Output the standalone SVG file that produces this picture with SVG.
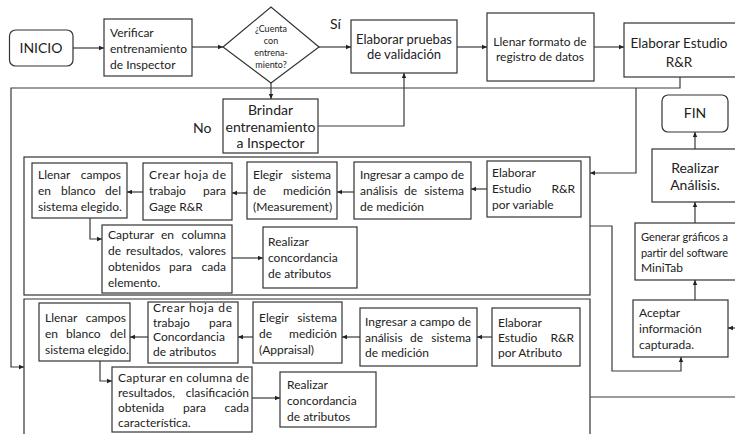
<svg xmlns="http://www.w3.org/2000/svg" width="735" height="434" viewBox="0 0 735 434">
<style>
.b{fill:#fff;stroke:#333;stroke-width:1.2}
.c{fill:none;stroke:#3a3a3a;stroke-width:1.2}
.t{font-family:Lato,"Liberation Sans",sans-serif;font-size:12px;fill:#222}
.m{text-anchor:middle}
.e{text-anchor:end}
.l{font-size:14px}
.s{font-size:9px}
.g{font-size:11px}
</style>
<defs>
<marker id="a" markerWidth="6" markerHeight="6" refX="5" refY="3" orient="auto" markerUnits="userSpaceOnUse">
<path d="M0,0.8 L5,3 L0,5.2 Z" fill="#222"/>
</marker>
</defs>
<rect width="735" height="434" fill="#fff"/>
<g id="containers">
<rect class="b" x="24" y="157" width="566" height="138"/>
<path class="b" d="M24,440 V299 H590 V440"/>
</g>
<g id="connectors">
<line class="c" x1="73" y1="48" x2="104" y2="48" marker-end="url(#a)"/>
<line class="c" x1="192" y1="47" x2="223" y2="47" marker-end="url(#a)"/>
<line class="c" x1="319" y1="47" x2="351" y2="47" marker-end="url(#a)"/>
<line class="c" x1="457" y1="47" x2="487" y2="47" marker-end="url(#a)"/>
<line class="c" x1="594" y1="47" x2="624" y2="47" marker-end="url(#a)"/>
<line class="c" x1="271" y1="83" x2="271" y2="99" marker-end="url(#a)"/>
<polyline class="c" points="318,126 404,126 404,73" marker-end="url(#a)"/>
<polyline class="c" points="680,77 680,88 11,88 11,367 24,367" marker-end="url(#a)"/>
<polyline class="c" points="636,88 636,173 590,173" marker-end="url(#a)"/>
<polyline class="c" points="590,226 612,226 612,371 681,371 681,357" marker-end="url(#a)"/>
<line class="c" x1="590" y1="397" x2="736" y2="397"/>
<line class="c" x1="736" y1="328" x2="728" y2="328" marker-end="url(#a)"/>
<line class="c" x1="695" y1="300" x2="695" y2="280" marker-end="url(#a)"/>
<line class="c" x1="695" y1="223" x2="695" y2="202" marker-end="url(#a)"/>
<line class="c" x1="695" y1="149" x2="695" y2="132" marker-end="url(#a)"/>
<line class="c" x1="487" y1="189" x2="471" y2="189" marker-end="url(#a)"/>
<line class="c" x1="354" y1="192" x2="337" y2="192" marker-end="url(#a)"/>
<line class="c" x1="247" y1="193" x2="232" y2="193" marker-end="url(#a)"/>
<line class="c" x1="143" y1="192" x2="127" y2="192" marker-end="url(#a)"/>
<polyline class="c" points="90,218 90,239 102,239" marker-end="url(#a)"/>
<line class="c" x1="232" y1="258" x2="263" y2="258" marker-end="url(#a)"/>
<line class="c" x1="492" y1="337" x2="477" y2="337" marker-end="url(#a)"/>
<line class="c" x1="360" y1="337" x2="342" y2="337" marker-end="url(#a)"/>
<line class="c" x1="253" y1="337" x2="238" y2="337" marker-end="url(#a)"/>
<line class="c" x1="148" y1="337" x2="130" y2="337" marker-end="url(#a)"/>
<polyline class="c" points="100,361 100,381 112,381" marker-end="url(#a)"/>
<line class="c" x1="252" y1="398" x2="280" y2="398" marker-end="url(#a)"/>
</g>
<g id="labels">
<text class="t l" x="330" y="29">Sí</text>
<text class="t l" x="193" y="133">No</text>
</g>
<g id="inicio">
<rect class="b" x="9.5" y="30" width="63.5" height="36" rx="6"/>
<text class="t l m" x="41" y="53">INICIO</text>
</g>
<g id="verificar">
<rect class="b" x="104" y="19" width="88" height="57"/>
<text class="t" x="110" y="37">Verificar</text>
<text class="t" x="110" y="53">entrenamiento</text>
<text class="t" x="110" y="69">de Inspector</text>
</g>
<g id="decision">
<polygon class="b" points="223,47 271,7 319,47 271,83"/>
<text class="t s m" x="271" y="32">¿Cuenta</text>
<text class="t s m" x="271" y="44">con</text>
<text class="t s m" x="271" y="56">entrena-</text>
<text class="t s m" x="271" y="68">miento?</text>
</g>
<g id="brindar">
<rect class="b" x="223" y="99" width="95" height="54"/>
<text class="t l m" x="270.5" y="115">Brindar</text>
<text class="t l m" x="270.5" y="132">entrenamiento</text>
<text class="t l m" x="270.5" y="148">a Inspector</text>
</g>
<g id="pruebas">
<rect class="b" x="351" y="20" width="106" height="53"/>
<text class="t m" style="font-size:13px" x="404" y="44">Elaborar pruebas</text>
<text class="t m" style="font-size:13px" x="404" y="59">de validación</text>
</g>
<g id="formato">
<rect class="b" x="487" y="13" width="107" height="68"/>
<text class="t m" x="540" y="46">Llenar formato de</text>
<text class="t m" x="540" y="61">registro de datos</text>
</g>
<g id="estudio">
<rect class="b" x="624" y="23" width="112" height="54"/>
<text class="t m" style="font-size:13.5px" x="679" y="48">Elaborar Estudio</text>
<text class="t m" style="font-size:13.5px" x="679" y="67">R&amp;R</text>
</g>
<g id="fin">
<rect class="b" x="662" y="95" width="66" height="37" rx="6"/>
<text class="t l m" x="695" y="118">FIN</text>
</g>
<g id="analisis">
<rect class="b" x="652" y="149" width="86" height="53"/>
<text class="t l m" x="695" y="173">Realizar</text>
<text class="t l m" x="695" y="190">Análisis.</text>
</g>
<g id="generar">
<rect class="b" x="635" y="223" width="106" height="57"/>
<text class="t g" x="641" y="241" textLength="87" lengthAdjust="spacing">Generar gráficos a</text>
<text class="t g" x="641" y="257" textLength="87" lengthAdjust="spacing">partir del software</text>
<text class="t" x="641" y="272">MiniTab</text>
</g>
<g id="aceptar">
<rect class="b" x="633" y="300" width="95" height="57"/>
<text class="t" x="639" y="317">Aceptar</text>
<text class="t" x="639" y="333">información</text>
<text class="t" x="639" y="349">capturada.</text>
</g>
<g id="var-elaborar">
<rect class="b" x="487" y="161" width="94" height="56"/>
<text class="t" x="492" y="177">Elaborar</text>
<text class="t" x="492" y="193">Estudio</text>
<text class="t e" x="575" y="193">R&amp;R</text>
<text class="t" x="492" y="209">por variable</text>
</g>
<g id="var-ingresar">
<rect class="b" x="354" y="162" width="117" height="57"/>
<text class="t" x="360" y="179" textLength="104" lengthAdjust="spacing">Ingresar a campo de</text>
<text class="t" x="360" y="195">análisis</text>
<text class="t" x="404" y="195">de</text>
<text class="t e" x="464" y="195">sistema</text>
<text class="t" x="360" y="211">de medición</text>
</g>
<g id="var-elegir">
<rect class="b" x="247" y="162" width="90" height="57"/>
<text class="t" x="253" y="179">Elegir</text>
<text class="t e" x="331" y="179">sistema</text>
<text class="t" x="253" y="195">de</text>
<text class="t e" x="331" y="195">medición</text>
<text class="t" x="253" y="211">(Measurement)</text>
</g>
<g id="var-crear">
<rect class="b" x="143" y="163" width="89" height="57"/>
<text class="t" x="149" y="179" textLength="77" lengthAdjust="spacing">Crear hoja de</text>
<text class="t" x="149" y="195">trabajo</text>
<text class="t e" x="226" y="195">para</text>
<text class="t" x="149" y="211">Gage R&amp;R</text>
</g>
<g id="var-llenar">
<rect class="b" x="32" y="163" width="95" height="55"/>
<text class="t" x="38" y="179">Llenar</text>
<text class="t e" x="121" y="179">campos</text>
<text class="t" x="38" y="195">en</text>
<text class="t" x="61" y="195">blanco</text>
<text class="t e" x="121" y="195">del</text>
<text class="t" x="38" y="211">sistema elegido.</text>
</g>
<g id="var-capturar">
<rect class="b" x="102" y="225" width="130" height="68"/>
<text class="t" x="108" y="239">Capturar</text>
<text class="t" x="161" y="239">en</text>
<text class="t e" x="226" y="239">columna</text>
<text class="t" x="108" y="255">de</text>
<text class="t" x="126" y="255">resultados,</text>
<text class="t e" x="226" y="255">valores</text>
<text class="t" x="108" y="271">obtenidos</text>
<text class="t" x="169" y="271">para</text>
<text class="t e" x="226" y="271">cada</text>
<text class="t" x="108" y="287">elemento.</text>
</g>
<g id="var-realizar">
<rect class="b" x="263" y="227" width="94" height="61"/>
<text class="t" x="268" y="246">Realizar</text>
<text class="t" x="268" y="262">concordancia</text>
<text class="t" x="268" y="278">de atributos</text>
</g>
<g id="atr-elaborar">
<rect class="b" x="492" y="308" width="88" height="58"/>
<text class="t" x="498" y="327">Elaborar</text>
<text class="t" x="498" y="342">Estudio</text>
<text class="t e" x="574" y="342">R&amp;R</text>
<text class="t" x="498" y="357">por Atributo</text>
</g>
<g id="atr-ingresar">
<rect class="b" x="360" y="308" width="117" height="58"/>
<text class="t" x="365" y="326" textLength="106" lengthAdjust="spacing">Ingresar a campo de</text>
<text class="t" x="365" y="342">análisis</text>
<text class="t" x="410" y="342">de</text>
<text class="t e" x="471" y="342">sistema</text>
<text class="t" x="365" y="357">de medición</text>
</g>
<g id="atr-elegir">
<rect class="b" x="253" y="302" width="89" height="61"/>
<text class="t" x="259" y="322">Elegir</text>
<text class="t e" x="337" y="322">sistema</text>
<text class="t" x="259" y="338">de</text>
<text class="t e" x="337" y="338">medición</text>
<text class="t" x="259" y="354">(Appraisal)</text>
</g>
<g id="atr-crear">
<rect class="b" x="148" y="302" width="90" height="61"/>
<text class="t" x="153" y="312" textLength="79" lengthAdjust="spacing">Crear hoja de</text>
<text class="t" x="153" y="327">trabajo</text>
<text class="t e" x="232" y="327">para</text>
<text class="t" x="153" y="341">Concordancia</text>
<text class="t" x="153" y="356">de atributos</text>
</g>
<g id="atr-llenar">
<rect class="b" x="39" y="303" width="91" height="58"/>
<text class="t" x="45" y="322">Llenar</text>
<text class="t e" x="126" y="322">campos</text>
<text class="t" x="45" y="338">en</text>
<text class="t" x="66" y="338">blanco</text>
<text class="t e" x="126" y="338">del</text>
<text class="t" x="45" y="354">sistema elegido.</text>
</g>
<g id="atr-capturar">
<rect class="b" x="112" y="367" width="140" height="65"/>
<text class="t" x="118" y="382" textLength="131" lengthAdjust="spacing">Capturar en columna de</text>
<text class="t" x="118" y="397">resultados,</text>
<text class="t e" x="249" y="397">clasificación</text>
<text class="t" x="118" y="412">obtenida</text>
<text class="t" x="183" y="412">para</text>
<text class="t e" x="249" y="412">cada</text>
<text class="t" x="118" y="427">característica.</text>
</g>
<g id="atr-realizar">
<rect class="b" x="280" y="372" width="96" height="55"/>
<text class="t" x="287" y="389">Realizar</text>
<text class="t" x="287" y="405">concordancia</text>
<text class="t" x="287" y="421">de atributos</text>
</g>
</svg>
